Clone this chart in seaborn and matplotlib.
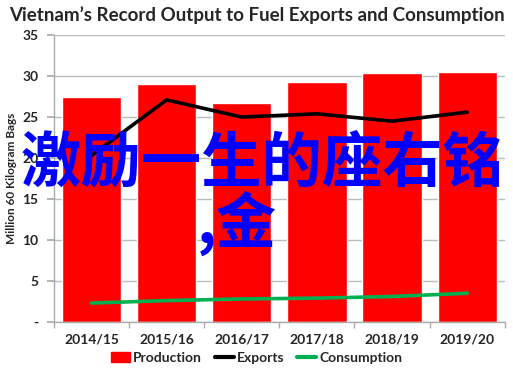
import matplotlib
matplotlib.use("Agg")
import matplotlib.pyplot as plt
import seaborn as sns
import pandas as pd
from matplotlib.patches import Patch
from matplotlib.lines import Line2D
from matplotlib.ticker import FixedLocator, FuncFormatter

# chart values
years = ["2014/15", "2015/16", "2016/17", "2017/18", "2018/19", "2019/20"]
production = [27.4, 29.0, 26.7, 29.3, 30.4, 30.5]
exports = [20.3, 27.1, 25.0, 25.4, 24.5, 25.6]
consumption = [2.3, 2.6, 2.8, 2.9, 3.1, 3.5]
y_ticks = [0, 5, 10, 15, 20, 25, 30, 35]

df = pd.DataFrame({"year": years, "Production": production,
                   "Exports": exports, "Consumption": consumption})

sns.set_theme(style="white")
plt.rcParams["font.family"] = ["Lato", "DejaVu Sans"]

fig = plt.figure(figsize=(5.13, 3.70), dpi=100)
ax = fig.add_axes([0.105, 0.130, 0.879, 0.775])

red = "#FF0000"
green = "#00B050"

sns.barplot(data=df, x="year", y="Production", color=red, width=0.79,
            saturation=1, ax=ax, zorder=2)
ax.plot(range(len(years)), df["Exports"], color="black", lw=2.6, zorder=3)
ax.plot(range(len(years)), df["Consumption"], color=green, lw=2.6, zorder=3)

ax.set_xlim(-0.5, len(years) - 0.5)
ax.set_ylim(0, 35)
ax.yaxis.set_major_locator(FixedLocator(y_ticks))
ax.yaxis.set_major_formatter(FuncFormatter(lambda v, p: "-" if v == 0 else f"{v:.0f}"))
ax.grid(axis="y", color="#BBBBBB", lw=1, zorder=0)
ax.set_axisbelow(True)

for s in ["top", "right"]:
    ax.spines[s].set_visible(False)
for s in ["left", "bottom"]:
    ax.spines[s].set_color("#AAAAAA")
    ax.spines[s].set_linewidth(1)

ax.tick_params(axis="y", left=True, length=5, color="#AAAAAA", labelsize=10, pad=6)
ax.tick_params(axis="x", which="major", length=0, labelsize=10, pad=8)
ax.set_xticks([i - 0.5 for i in range(len(years) + 1)], minor=True)
ax.tick_params(axis="x", which="minor", bottom=True, length=4, color="#AAAAAA")
for lab in ax.get_xticklabels() + ax.get_yticklabels():
    lab.set_fontweight("bold")

ax.set_xlabel("")
ax.set_ylabel("Million 60 Kilogram Bags", fontsize=8.5, fontweight="bold", labelpad=4)

fig.text(0.50, 0.958, "Vietnam\u2019s Record Output to Fuel Exports and Consumption",
         ha="center", va="center", fontsize=13.5, fontweight="bold")

handles = [Patch(color=red, label="Production"),
           Line2D([0], [0], color="black", lw=3, label="Exports"),
           Line2D([0], [0], color=green, lw=3, label="Consumption")]
leg = fig.legend(handles=handles, loc="center", bbox_to_anchor=(0.50, 0.033), ncol=3,
                 frameon=False, fontsize=10, handlelength=1.4, handletextpad=0.2,
                 columnspacing=0.9)
for t in leg.get_texts():
    t.set_fontweight("bold")

# overlaid caption text
cjk = ["Noto Sans CJK SC", "DejaVu Sans"]
fig.text(0.512, 0.556, "激励一生的座右铭", ha="center", va="center", fontsize=43.5,
         fontweight="bold", color="#0000FF", family=cjk, zorder=10)
fig.text(0.462, 0.396, ",金", ha="center", va="center", fontsize=43.5,
         fontweight="bold", color="#0000FF", family=cjk, zorder=10)

fig.savefig("out.png", dpi=100)
